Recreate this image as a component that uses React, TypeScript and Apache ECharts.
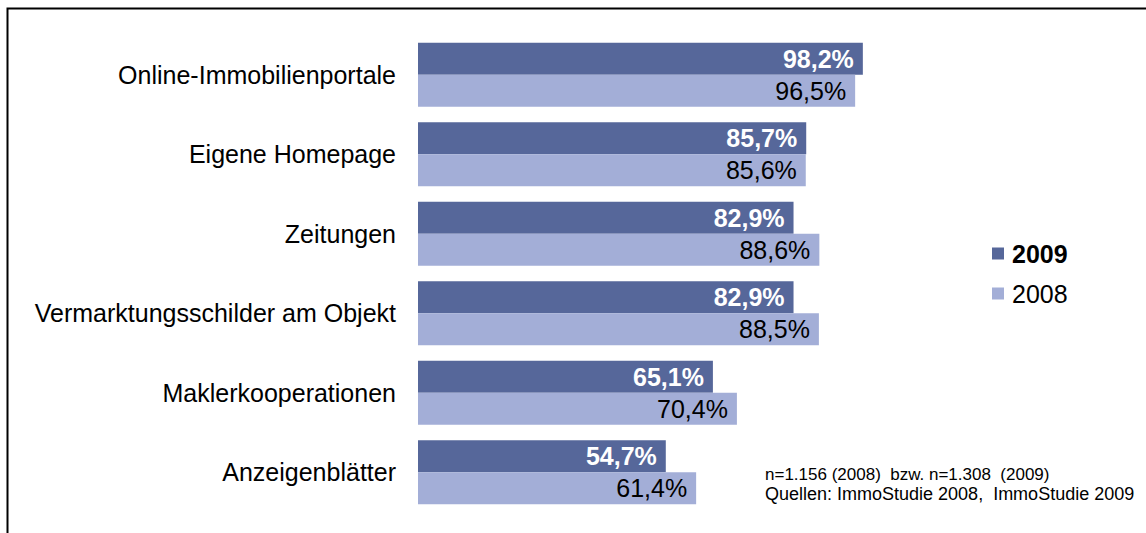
import React, { useEffect, useRef } from "react";
import * as echarts from "echarts";

const categories = [
  "Online-Immobilienportale",
  "Eigene Homepage",
  "Zeitungen",
  "Vermarktungsschilder am Objekt",
  "Maklerkooperationen",
  "Anzeigenblätter",
];
const values2009 = [98.2, 85.7, 82.9, 82.9, 65.1, 54.7];
const values2008 = [96.5, 85.6, 88.6, 88.5, 70.4, 61.4];
const seriesNames = ["2009", "2008"];
const footnotes = [
  "n=1.156 (2008)  bzw. n=1.308  (2009)",
  "Quellen: ImmoStudie 2008,  ImmoStudie 2009",
];

const fmt = (v: number) => v.toFixed(1).replace(".", ",") + "%";
const FONT = "'Liberation Sans', Arial, sans-serif";

export default function App() {
  const ref = useRef<HTMLDivElement>(null);
  useEffect(() => {
    if (!ref.current) return;
    const chart = echarts.init(ref.current, null, { renderer: "svg" });
    chart.setOption({
      animation: false,
      textStyle: { fontFamily: FONT },
      grid: { left: 418, top: 35, width: 453, height: 477, containLabel: false },
      xAxis: { type: "value", min: 0, max: 100, show: false },
      yAxis: {
        type: "category",
        data: categories,
        inverse: true,
        axisLine: { show: false },
        axisTick: { show: false },
        axisLabel: { fontSize: 25, color: "#000", margin: 22, fontFamily: FONT },
      },
      legend: {
        orient: "vertical",
        left: 987,
        top: 236,
        itemWidth: 12,
        itemHeight: 12,
        itemGap: 15,
        icon: "rect",
        textStyle: { fontSize: 25, color: "#000", fontFamily: FONT, padding: [0, 0, 0, 3] },
        data: [
          { name: seriesNames[0], textStyle: { fontWeight: "bold" } },
          { name: seriesNames[1] },
        ],
      },
      series: [
        {
          name: seriesNames[0],
          type: "bar",
          data: values2009,
          barGap: "0%",
          barCategoryGap: "19.5%",
          itemStyle: { color: "#56679A" },
          label: {
            show: true,
            position: "insideRight",
            distance: 9,
            formatter: (p: any) => fmt(p.value),
            color: "#fff",
            fontWeight: "bold",
            fontSize: 25,
            fontFamily: FONT,
          },
        },
        {
          name: seriesNames[1],
          type: "bar",
          data: values2008,
          barGap: "0%",
          barCategoryGap: "19.5%",
          itemStyle: { color: "#A3AED7" },
          label: {
            show: true,
            position: "insideRight",
            distance: 9,
            formatter: (p: any) => fmt(p.value),
            color: "#000",
            fontSize: 25,
            fontFamily: FONT,
          },
        },
      ],
      graphic: [
        {
          type: "rect",
          left: 5,
          top: 6,
          shape: { width: 1200, height: 600 },
          style: { fill: "none", stroke: "#000", lineWidth: 2 },
          silent: true,
        },
        {
          type: "text",
          left: 765,
          top: 466,
          style: { text: footnotes[0], fontSize: 17, fill: "#000", fontFamily: FONT },
        },
        {
          type: "text",
          left: 765,
          top: 485,
          style: { text: footnotes[1], fontSize: 18, fill: "#000", fontFamily: FONT },
        },
      ],
    });
    return () => chart.dispose();
  }, []);
  return (
    <div
      ref={ref}
      style={{ position: "fixed", left: 0, top: 0, width: 1146, height: 533, background: "#fff" }}
    />
  );
}
